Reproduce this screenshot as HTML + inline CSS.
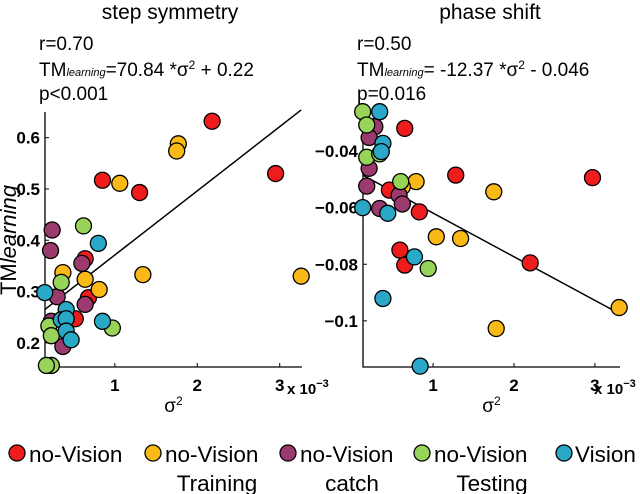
<!DOCTYPE html>
<html><head><meta charset="utf-8"><style>
html,body{margin:0;padding:0;background:#fff;}
svg{display:block;font-family:"Liberation Sans",Arial,sans-serif;}
</style></head><body>
<svg id="fig" width="640" height="494" viewBox="0 0 640 494">
<text x="170" y="19" font-size="21" text-anchor="middle">step symmetry</text>
<text x="490" y="19" font-size="21" text-anchor="middle">phase shift</text>
<g font-size="19">
<text x="39" y="50">r=0.70</text>
<text x="39" y="76">TM<tspan font-size="11" font-style="italic">learning</tspan>=70.84 *σ<tspan font-size="12" dy="-7">2</tspan><tspan dy="7"> + 0.22</tspan></text>
<text x="39" y="100">p&lt;0.001</text>
</g>
<g font-size="19">
<text x="357" y="50">r=0.50</text>
<text x="357" y="76">TM<tspan font-size="11" font-style="italic">learning</tspan>= -12.37 *σ<tspan font-size="12" dy="-7">2</tspan><tspan dy="7"> - 0.046</tspan></text>
<text x="357" y="100">p=0.016</text>
</g>
<text transform="translate(16,240) rotate(-90)" font-size="22" text-anchor="middle">TM<tspan font-style="italic">learning</tspan></text>
<g id="left"></g>
<g id="right"></g>
<g font-size="22.5">
<g><circle cx="17" cy="453" r="8" fill="#ee1c1c" stroke="#000" stroke-width="1.3"/><text x="29" y="462">no-Vision</text></g>
<g><circle cx="153" cy="453" r="8" fill="#fbb917" stroke="#000" stroke-width="1.3"/><text x="165" y="462">no-Vision</text><text x="217" y="491" text-anchor="middle">Training</text></g>
<g><circle cx="288" cy="453" r="8" fill="#9b3a6c" stroke="#000" stroke-width="1.3"/><text x="300" y="462">no-Vision</text><text x="352" y="491" text-anchor="middle">catch</text></g>
<g><circle cx="422" cy="453" r="8" fill="#98d45a" stroke="#000" stroke-width="1.3"/><text x="434" y="462">no-Vision</text><text x="492" y="491" text-anchor="middle">Testing</text></g>
<g><circle cx="564" cy="453" r="8" fill="#2aa8c8" stroke="#000" stroke-width="1.3"/><text x="575" y="462">Vision</text></g>
</g>
</svg>
<script>
// ---- data (x in units of 1e-3) ----
const colors = ["#ee1c1c","#fbb917","#9b3a6c","#98d45a","#2aa8c8"];
const groupNames = ["red","yellow","purple","green","blue"];
const leftX = [
 [2.18,2.95,0.85,1.30,0.64,0.68,0.52],
 [1.77,1.75,1.06,1.34,3.26,0.37,0.64,0.81],
 [0.24,0.22,0.30,0.60,0.64,0.23,0.37],
 [0.62,0.35,0.20,0.23,0.23,0.97,0.17],
 [0.80,0.15,0.41,0.35,0.41,0.41,0.47,0.85]];
const leftY = [
 [0.632,0.530,0.517,0.493,0.364,0.288,0.247],
 [0.588,0.574,0.511,0.333,0.330,0.337,0.324,0.304],
 [0.420,0.380,0.290,0.355,0.275,0.242,0.193],
 [0.428,0.318,0.233,0.214,0.156,0.229,0.156],
 [0.394,0.298,0.265,0.245,0.247,0.223,0.206,0.242]];
const rightX = [
 [0.65,1.28,2.97,0.46,0.83,0.59,0.65,2.20],
 [0.79,0.62,1.75,1.04,1.34,3.30,1.78],
 [0.28,0.21,0.21,0.18,0.34,0.58,0.62],
 [0.13,0.18,0.18,0.34,0.60,0.94],
 [0.34,0.38,0.36,0.13,0.44,0.77,0.38,0.84]];
const rightY = [
 [-0.032,-0.0485,-0.0494,-0.0538,-0.0615,-0.075,-0.0803,-0.0795],
 [-0.0508,-0.0526,-0.0544,-0.0703,-0.0709,-0.0953,-0.1027],
 [-0.0314,-0.0352,-0.0461,-0.0524,-0.0603,-0.0556,-0.0587],
 [-0.0261,-0.0308,-0.0422,-0.041,-0.0508,-0.0815],
 [-0.0261,-0.0373,-0.0402,-0.060,-0.062,-0.0774,-0.0921,-0.116]];
const leftFitX = [0.15,3.26], leftFitY = [0.265,0.654];
const rightFitX = [0.13,3.30], rightFitY = [-0.0485,-0.0974];
const leftYTicks = [0.2,0.3,0.4,0.5,0.6], leftYLabels = ["0.2","0.3","0.4","0.5","0.6"];
const rightYTicks = [-0.1,-0.08,-0.06,-0.04], rightYLabels = ["\u22120.1","\u22120.08","\u22120.06","\u22120.04"];
const xTicks = [1,2,3], xLabels = ["1","2","3"];

const NS="http://www.w3.org/2000/svg";
function mk(parent,tag,attrs){const e=document.createElementNS(NS,tag);for(const k in attrs)e.setAttribute(k,attrs[k]);parent.appendChild(e);return e;}

function panel(g,cfg){
  const sx=v=>cfg.x0px+(v-cfg.xmin)*(cfg.x1px-cfg.x0px)/(cfg.xmax-cfg.xmin);
  const sy=v=>cfg.y0px-(v-cfg.ymin)*(cfg.y0px-cfg.y1px)/(cfg.ymax-cfg.ymin);
  const ax=mk(g,"path",{d:`M${cfg.x0px},${cfg.y1px}V${cfg.y0px}H${cfg.x1px}`,fill:"none",stroke:"#000","stroke-width":1.3});
  
  
  cfg.yt.forEach((v,i)=>{
    const y=sy(v);
    const t=mk(g,"line",{x1:cfg.x0px,x2:cfg.x0px+4,y1:y,y2:y,stroke:"#000","stroke-width":1});
    
    
    const l=mk(g,"text",{x:cfg.x0px-5,y:y+6,"font-size":17,"font-weight":"bold","text-anchor":"end"});
    l.textContent=cfg.yl[i];
    
    
  });
  xTicks.forEach((v,i)=>{
    const x=sx(v);
    const t=mk(g,"line",{x1:x,x2:x,y1:cfg.y0px,y2:cfg.y0px-4,stroke:"#000","stroke-width":1});
    
    
    const l=mk(g,"text",{x:x,y:cfg.y0px+24,"font-size":17,"font-weight":"bold","text-anchor":"middle"});
    l.textContent=xLabels[i];
    
    
  });
  const fit=mk(g,"line",{x1:sx(cfg.fx[0]),y1:sy(cfg.fy[0]),x2:sx(cfg.fx[1]),y2:sy(cfg.fy[1]),stroke:"#000","stroke-width":1.5});
  
  
  cfg.X.forEach((xs,gi)=>{
    xs.forEach((v,i)=>{
      const c=mk(g,"circle",{cx:sx(v),cy:sy(cfg.Y[gi][i]),r:8,fill:colors[gi],stroke:"#000","stroke-width":1.3});
      
      
    });
  });
  const xl=mk(g,"text",{x:(cfg.x0px+cfg.x1px)/2,y:cfg.y0px+45,"font-size":19,"text-anchor":"middle"});
  xl.innerHTML='σ<tspan font-size="12" dy="-7">2</tspan>';
  
  
  const ex=mk(g,"text",{x:cfg.expX,y:cfg.y0px+cfg.expDy,"font-size":15,"font-weight":"bold"});
  ex.innerHTML='x 10<tspan font-size="11" dy="-7">\u22123</tspan>';
  
  
}
panel(document.getElementById("left"),{x0px:45,x1px:302,y0px:367,y1px:112,xmin:0.153,xmax:3.27,ymin:0.153,ymax:0.65,
  yt:leftYTicks,yl:leftYLabels,fx:leftFitX,fy:leftFitY,X:leftX,Y:leftY,expX:287,expDy:27});
panel(document.getElementById("right"),{x0px:363,x1px:620,y0px:367,y1px:110,xmin:0.134,xmax:3.31,ymin:-0.1163,ymax:-0.0255,
  yt:rightYTicks,yl:rightYLabels,fx:rightFitX,fy:rightFitY,X:rightX,Y:rightY,expX:594,expDy:27});
</script>
</body></html>
